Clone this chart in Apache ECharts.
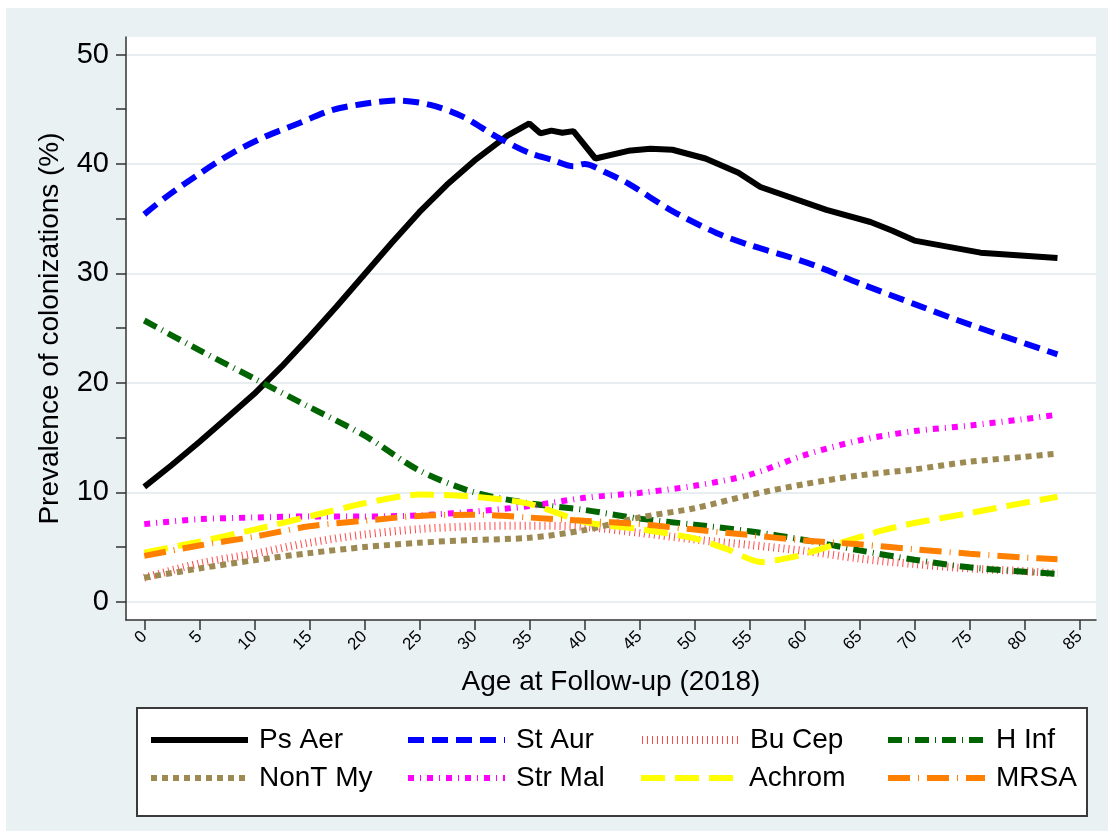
<!DOCTYPE html>
<html>
<head>
<meta charset="utf-8">
<script src="https://cdn.jsdelivr.net/npm/echarts@6/dist/echarts.min.js"></script>
<style>
html,body{margin:0;padding:0;background:#ffffff;}
#chart{width:1114px;height:838px;}
</style>
</head>
<body>
<div id="chart"></div>
<script>
// ---- data ----
const X_TICKS = [0,5,10,15,20,25,30,35,40,45,50,55,60,65,70,75,80,85];
const Y_LABELS = [0,10,20,30,40,50];
const Y_TICKS = [0,5,10,15,20,25,30,35,40,45,50];

const SERIES_NAMES = ['Ps Aer','St Aur','Bu Cep','H Inf','NonT My','Str Mal','Achrom','MRSA'];

const AGES = [0,5,10,15,20,25,30,35,40,45,50,55,60,65,70,75,80,83];

const psAerAges = [0,2.5,5,7.5,10,12.5,15,17.5,20,22.5,25,27.5,30,33,35,36,37,38,39,41,44,46,48,51,54,56,62,66,68,70,76,83];
const psAer     = [10.5,12.5,14.6,16.8,19.0,21.5,24.2,27.0,29.9,32.8,35.6,38.1,40.3,42.6,43.7,42.8,43.05,42.85,43.0,40.5,41.2,41.4,41.3,40.5,39.2,37.9,35.8,34.7,33.9,33.0,31.9,31.4];

const stAurAges = [0,2,5,8,11,14,17,20,23,26,29,32,35,37,39,40,42,44,48,52,55,58,61,65,70,74,78,83];
const stAur     = [35.4,37.0,39.1,41.0,42.5,43.7,44.9,45.5,45.8,45.4,44.3,42.5,41.0,40.4,39.8,40.0,39.2,38.2,35.7,33.7,32.6,31.7,30.7,29.1,27.2,25.7,24.3,22.6];

const buCep  = [2.2,3.5,4.4,5.4,6.15,6.65,6.9,6.95,6.85,6.3,5.7,5.2,4.65,3.95,3.45,3.05,2.8,2.6];
const hInf   = [25.7,23.0,20.4,17.8,15.2,12.0,10.0,9.0,8.4,7.6,7.05,6.45,5.65,4.7,3.85,3.15,2.75,2.55];
const nontMy = [2.2,3.05,3.8,4.45,5.0,5.4,5.65,5.85,6.55,7.7,8.55,9.75,10.75,11.55,12.1,12.8,13.25,13.55];
const strMal = [7.1,7.55,7.7,7.8,7.8,7.9,8.25,8.75,9.5,9.95,10.6,11.6,13.4,14.75,15.6,16.1,16.7,17.1];
const mrsa   = [4.2,5.15,5.95,6.9,7.4,7.85,7.95,7.7,7.4,7.1,6.6,6.1,5.6,5.25,4.8,4.4,4.05,3.9];

const achromAges = [0,5,10,15,20,25,30,35,40,45,50,53,56,59,63,67,70,75,80,83];
const achrom     = [4.5,5.5,6.6,7.8,9.0,9.8,9.6,8.95,7.3,6.65,5.8,4.8,3.65,4.1,5.3,6.5,7.2,8.1,9.05,9.6];

// ---- helpers ----
const pairs = (xs, ys) => xs.map((x, i) => [x, ys[i]]);
const FONT = '"Liberation Sans", Arial, sans-serif';

const styles = {
  'Ps Aer':  {color:'#000000', width:6, type:'solid', smooth:false, data:pairs(psAerAges, psAer)},
  'St Aur':  {color:'#0000ff', width:6, type:[16,8], smooth:0.3, data:pairs(stAurAges, stAur)},
  'Bu Cep':  {color:'#ff4a4a', width:8, type:[1,4], smooth:0.3, data:pairs(AGES, buCep)},
  'H Inf':   {color:'#006400', width:6, type:[14,6,1,6], smooth:0.3, data:pairs(AGES, hInf)},
  'NonT My': {color:'#9c8a52', width:6, type:[6,5], smooth:0.3, data:pairs(AGES, nontMy)},
  'Str Mal': {color:'#ff00ff', width:6, type:[6,6,1,6], smooth:0.3, data:pairs(AGES, strMal)},
  'Achrom':  {color:'#ffff00', width:6, type:[24,10], smooth:0.25, data:pairs(achromAges, achrom)},
  'MRSA':    {color:'#ff7f00', width:6, type:[22,8,1,8], smooth:0.3, data:pairs(AGES, mrsa)}
};

const series = SERIES_NAMES.map(n => ({
  name: n,
  type: 'line',
  xAxisIndex: 0,
  yAxisIndex: 0,
  data: styles[n].data,
  smooth: styles[n].smooth,
  symbol: 'none',
  showSymbol: false,
  color: styles[n].color,
  lineStyle: {color: styles[n].color, width: styles[n].width, type: styles[n].type, cap: 'butt'},
  emphasis: {disabled: true},
  animation: false
}));

const colX = [148, 405, 638, 885];
const rowY = [726, 764];
const legends = SERIES_NAMES.map((n, i) => ({
  data: [n],
  left: colX[i % 4],
  top: rowY[Math.floor(i / 4)],
  padding: 0,
  itemWidth: 97,
  itemHeight: 14,
  selectedMode: false,
  itemStyle: {opacity: 0},
  lineStyle: {color: styles[n].color, width: styles[n].width, type: styles[n].type, cap: 'butt'},
  textStyle: {fontFamily: FONT, fontSize: 28, color: '#000', padding: [0,0,0,6]}
}));

const chart = echarts.init(document.getElementById('chart'));
chart.setOption({
  animation: false,
  backgroundColor: '#ffffff',
  graphic: [
    {type:'rect', shape:{x:6, y:8, width:1102, height:823}, style:{fill:'#e9f1f3'}, z:-10, silent:true},
    {type:'rect', shape:{x:137, y:708, width:950, height:108}, style:{fill:'#ffffff', stroke:'#3a3a3a', lineWidth:2}, z:-5, silent:true}
  ],
  grid: {
    left: 126, top: 37, width: 970, height: 583,
    show: true, backgroundColor: '#ffffff', borderWidth: 0
  },
  legend: legends,
  xAxis: [{
    type: 'value',
    min: -1.66, max: 86.5,
    name: 'Age at Follow-up (2018)',
    nameLocation: 'middle',
    nameGap: 48,
    nameTextStyle: {fontFamily: FONT, fontSize: 28, color: '#000'},
    axisLine: {show: true, onZero: false, lineStyle: {color: '#333', width: 1.5}},
    axisTick: {show: true, length: 10, customValues: X_TICKS, lineStyle: {color: '#333', width: 1.5}},
    axisLabel: {customValues: X_TICKS, rotate: 45, margin: 14, fontFamily: FONT, fontSize: 17, color: '#000'},
    splitLine: {show: false}
  }],
  yAxis: [{
    type: 'value',
    min: -1.66, max: 51.6,
    name: 'Prevalence of colonizations (%)',
    nameLocation: 'middle',
    nameGap: 62,
    nameTextStyle: {fontFamily: FONT, fontSize: 28, color: '#000'},
    axisLine: {show: true, onZero: false, lineStyle: {color: '#333', width: 1.5}},
    axisTick: {show: true, length: 10, customValues: Y_TICKS, lineStyle: {color: '#333', width: 1.5}},
    axisLabel: {customValues: Y_LABELS, margin: 17, fontFamily: FONT, fontSize: 29, color: '#000'},
    splitLine: {show: false}
  }, {
    type: 'value',
    min: -1.66, max: 51.6,
    position: 'left',
    axisLine: {show: false},
    axisTick: {show: false, customValues: Y_LABELS},
    axisLabel: {show: false, customValues: Y_LABELS},
    splitLine: {show: true, lineStyle: {color: '#e6eef1', width: 2}}
  }],
  series: series
});
</script>
</body>
</html>
